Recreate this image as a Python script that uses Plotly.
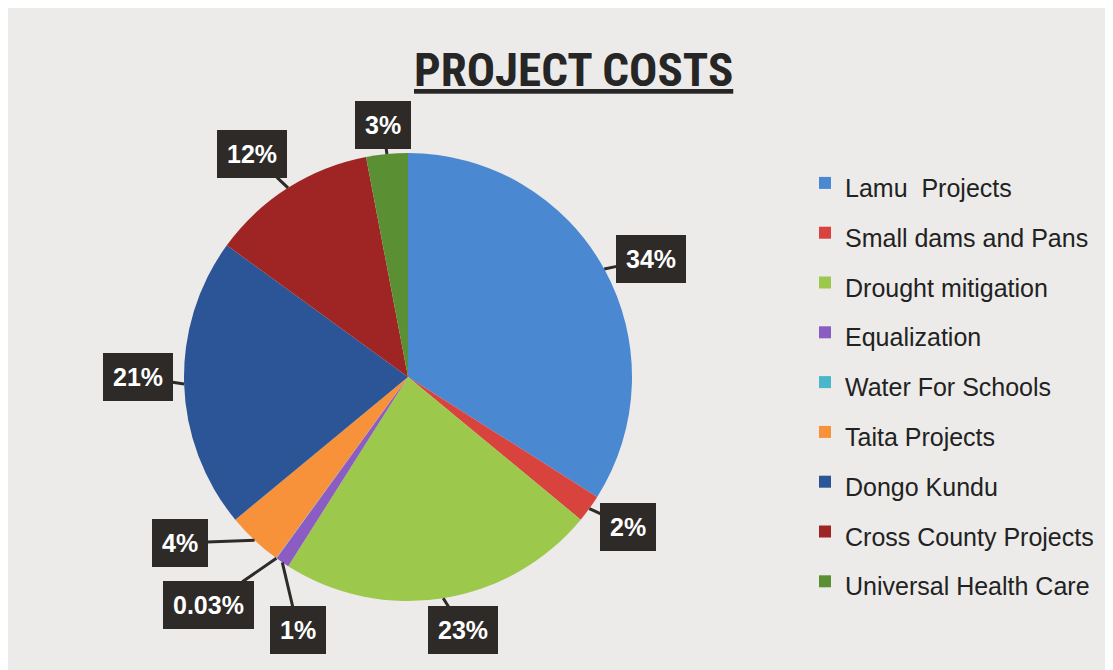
import math
import plotly.graph_objects as go

# slice data
projects = ["Lamu  Projects", "Small dams and Pans", "Drought mitigation", "Equalization",
            "Water For Schools", "Taita Projects", "Dongo Kundu", "Cross County Projects",
            "Universal Health Care"]
shares = [34, 2, 23, 1, 0.03, 4, 21, 12, 3]
colors = ["#4a88d2", "#d8433d", "#9cc84b", "#8b5cc2", "#4ab6c9",
          "#f7913a", "#2b5596", "#9e2523", "#5b8f33"]

# callout offsets (px) from slice edge to label box
label_dx = [47, 39, 20, 16, -68, -75, -46, -36, -4]
label_dy = [-10, 18, 32, 68, 47, 3, -7, -34, -29]

W, H = 1113, 670
# page body adds an 8px margin, so layout is placed in page coords minus 8
cx, cy, r = 400, 369, 224

fig = go.Figure()

fig.add_trace(
    go.Pie(
        labels=['<span style="font-size:25px">%s</span>' % p for p in projects],
        values=shares,
        sort=False,
        direction="clockwise",
        rotation=0,
        textinfo="none",
        marker=dict(colors=colors, line=dict(width=0)),
        domain=dict(x=[(cx - r) / W, (cx + r) / W], y=[1 - (cy + r) / H, 1 - (cy - r) / H]),
        hoverinfo="label+percent",
    )
)

# percent callouts at each slice's mid angle
total = sum(shares)
cum = 0
annotations = []
for v, dx, dy in zip(shares, label_dx, label_dy):
    mid = (cum + v / 2) / total * 2 * math.pi
    cum += v
    px = cx + r * math.sin(mid)
    py = cy - r * math.cos(mid)
    annotations.append(
        dict(
            x=px / W, y=1 - py / H, xref="paper", yref="paper",
            text="<b>%s%%</b>" % ("%g" % v),
            showarrow=True, arrowhead=0, arrowwidth=3, arrowcolor="#2e2a27",
            ax=dx, ay=dy, standoff=0,
            bgcolor="#2e2a27", bordercolor="#2e2a27", borderpad=9,
            font=dict(family="Liberation Sans, Arial", size=25, color="white"),
        )
    )

annotations.append(
    dict(
        x=565 / W, y=1 - 62 / H, xref="paper", yref="paper", showarrow=False,
        xanchor="center", yanchor="middle",
        text="<b><u>PROJECT COSTS</u></b>",
        font=dict(family="Liberation Sans Narrow, Roboto Condensed, Liberation Sans", size=47, color="#262626"),
    )
)

fig.update_layout(
    width=W,
    height=H,
    margin={"l": 0, "r": 0, "t": 0, "b": 0},
    paper_bgcolor="#ecebe9",
    plot_bgcolor="#ecebe9",
    annotations=annotations,
    showlegend=True,
    legend=dict(
        x=797 / W, xanchor="left", y=1 - 145 / H, yanchor="top",
        font=dict(family="Liberation Sans, Arial", size=36, color="#222222"),
        bgcolor="rgba(0,0,0,0)",
    ),
)

fig.write_html("out.html")
